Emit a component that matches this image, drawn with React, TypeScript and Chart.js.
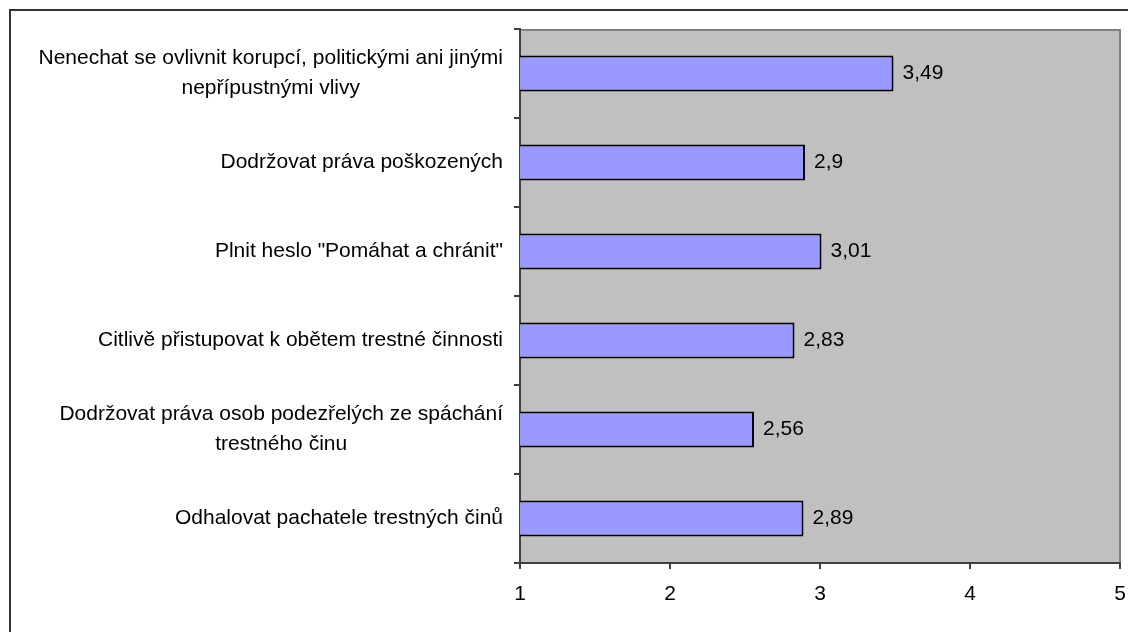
import React, { useEffect, useRef } from "react";
import { Chart, registerables } from "chart.js";

Chart.register(...registerables);

const categoryLines: string[][] = [
  ["Nenechat se ovlivnit korupcí, politickými ani jinými", "nepřípustnými vlivy"],
  ["Dodržovat práva poškozených"],
  ['Plnit heslo "Pomáhat a chránit"'],
  ["Citlivě přistupovat k obětem trestné činnosti"],
  ["Dodržovat práva osob podezřelých ze spáchání", "trestného činu"],
  ["Odhalovat pachatele trestných činů"],
];
const values: number[] = [3.49, 2.9, 3.01, 2.83, 2.56, 2.89];
const xMin = 1;
const xMax = 5;

const FONT = '"Liberation Sans", Arial, sans-serif';
const FS = 21;

export default function App() {
  const ref = useRef<HTMLCanvasElement | null>(null);

  useEffect(() => {
    document.body.style.overflow = "hidden";
    const canvas = ref.current!;
    const W = 1125;
    const H = 621;
    const plotLeft = 509;
    const plotRight = 1109;
    const plotTop = 18;
    const plotBottom = 552;

    const bgPlugin = {
      id: "bg",
      beforeDraw(chart: any) {
        const { ctx, chartArea: a } = chart;
        ctx.save();
        ctx.fillStyle = "#C0C0C0";
        ctx.fillRect(a.left, a.top, a.right - a.left, a.bottom - a.top);
        ctx.strokeStyle = "#808080";
        ctx.lineWidth = 2;
        ctx.beginPath();
        ctx.moveTo(a.left, a.top + 1);
        ctx.lineTo(a.right, a.top + 1);
        ctx.lineTo(a.right, a.bottom);
        ctx.stroke();
        ctx.restore();
      },
    };

    const labelPlugin = {
      id: "labels",
      afterDraw(chart: any) {
        const { ctx, chartArea: a } = chart;
        const yScale = chart.scales.y;
        const xScale = chart.scales.x;
        ctx.save();
        ctx.font = `${FS}px ${FONT}`;
        ctx.fillStyle = "#000";
        ctx.textBaseline = "middle";
        ctx.textAlign = "center";
        const right = a.left - 17;
        const lh = 30;
        categoryLines.forEach((lines, i) => {
          const cy = yScale.getPixelForValue(i);
          const maxW = Math.max(...lines.map((l) => ctx.measureText(l).width));
          const cx = right - maxW / 2;
          const startY = cy - ((lines.length - 1) * lh) / 2;
          lines.forEach((l, j) => ctx.fillText(l, cx, startY + j * lh));
        });
        ctx.textAlign = "left";
        values.forEach((v, i) => {
          const x = xScale.getPixelForValue(v);
          const y = yScale.getPixelForValue(i);
          ctx.fillText(String(v).replace(".", ","), x + 9, y);
        });
        ctx.restore();
      },
    };

    const chart = new Chart(canvas, {
      type: "bar",
      data: {
        labels: categoryLines.map((l) => l.join(" ")),
        datasets: [
          {
            data: values,
            backgroundColor: "#9999FF",
            borderColor: "#000000",
            borderWidth: 2,
            borderSkipped: false,
            barPercentage: 0.405,
            categoryPercentage: 1,
          },
        ],
      },
      options: {
        indexAxis: "y",
        responsive: false,
        animation: false,
        events: [],
        layout: {
          padding: { left: 0, top: plotTop, right: W - plotRight, bottom: 0 },
        },
        plugins: {
          legend: { display: false },
          tooltip: { enabled: false },
        },
        scales: {
          x: {
            type: "linear",
            min: xMin,
            max: xMax,
            ticks: {
              stepSize: 1,
              color: "#000",
              padding: 13,
              font: { family: FONT, size: FS },
              callback: (v: any) => String(v),
            },
            grid: {
              drawOnChartArea: false,
              drawTicks: true,
              tickLength: 6,
              color: "#404040",
              lineWidth: 2,
            },
            border: { color: "#404040", width: 2 },
            afterFit(scale: any) {
              scale.height = H - plotBottom;
              scale.paddingLeft = 0;
              scale.paddingRight = 0;
            },
          },
          y: {
            type: "category",
            ticks: { display: false },
            grid: {
              drawOnChartArea: false,
              drawTicks: true,
              tickLength: 6,
              color: "#404040",
              lineWidth: 2,
              offset: true,
            },
            border: { color: "#404040", width: 2 },
            afterFit(scale: any) {
              scale.width = plotLeft;
            },
          },
        },
      },
      plugins: [bgPlugin, labelPlugin],
    });
    return () => chart.destroy();
  }, []);

  return (
    <div
      style={{
        marginLeft: 1,
        marginTop: 1,
        border: "2px solid #333",
        width: 1140,
        height: 640,
        boxSizing: "border-box",
        background: "#fff",
      }}
    >
      <canvas ref={ref} width={1125} height={621} style={{ display: "block" }} />
    </div>
  );
}
